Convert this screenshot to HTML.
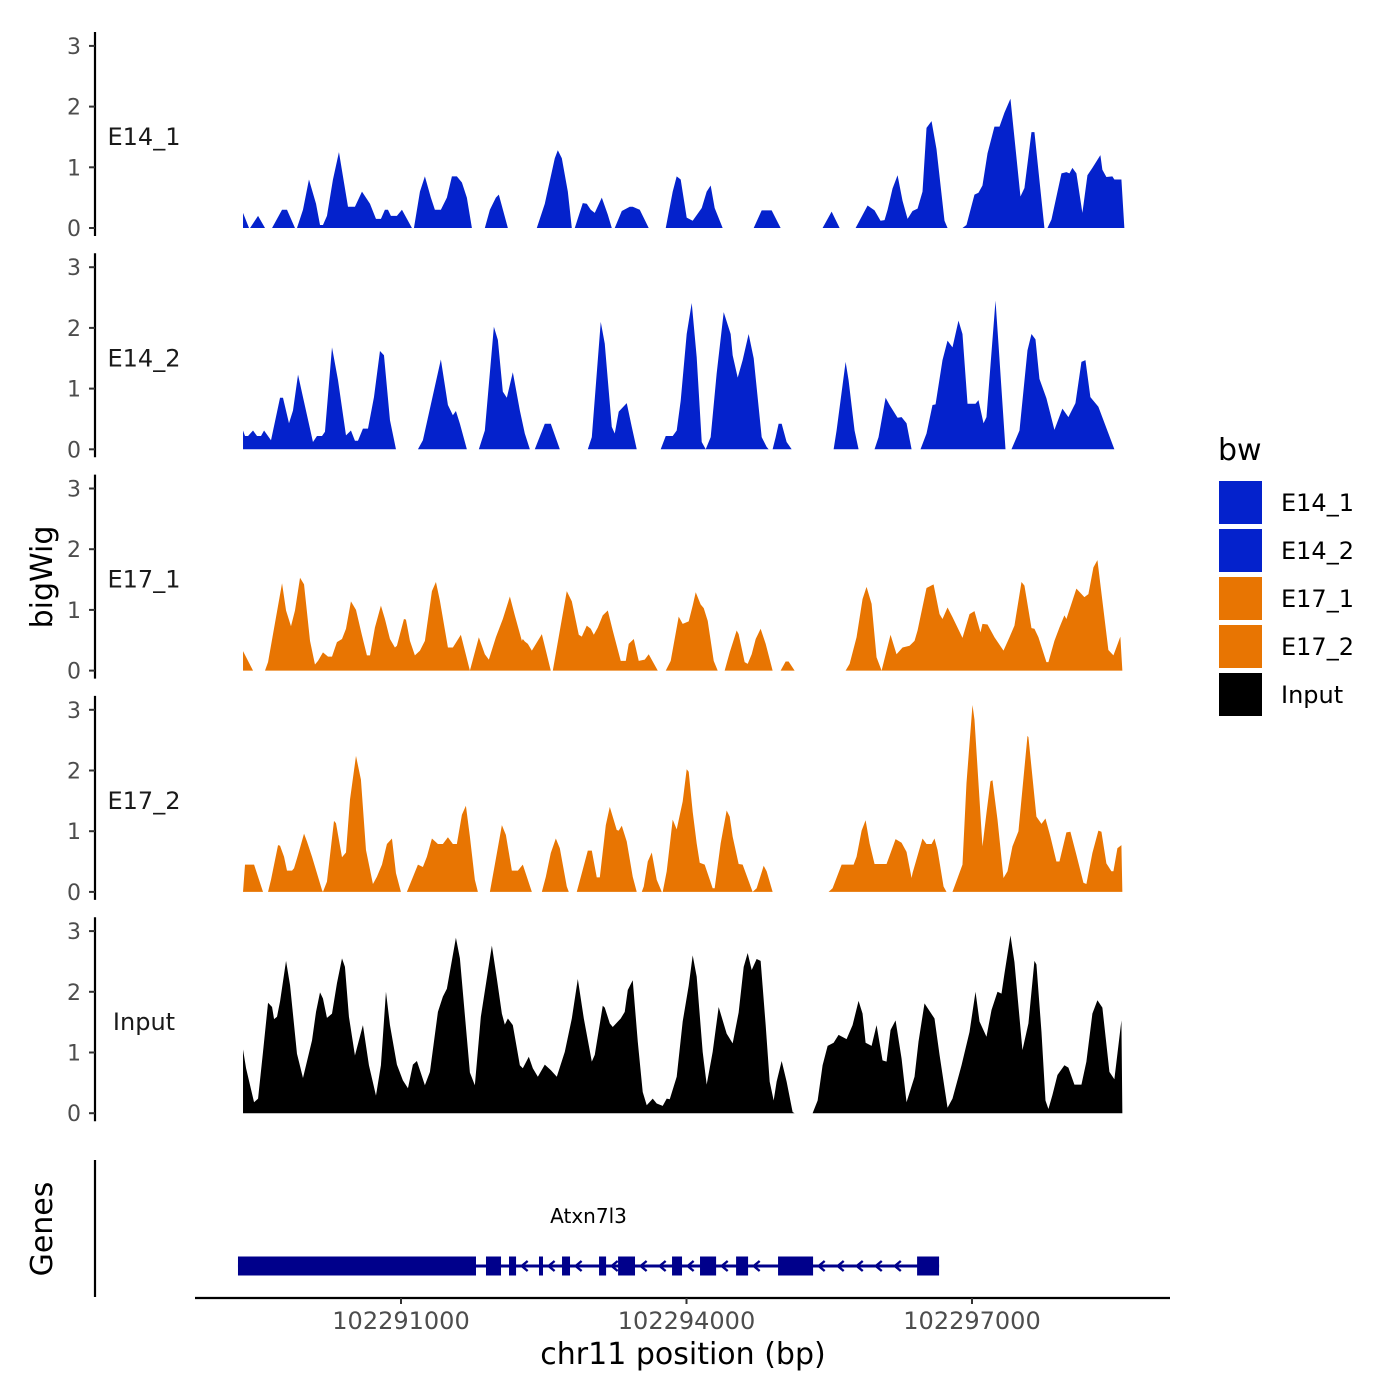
<!DOCTYPE html>
<html><head><meta charset="utf-8"><title>bigWig tracks</title>
<style>
html,body{margin:0;padding:0;background:#fff;}
svg{display:block;font-family:"DejaVu Sans","Liberation Sans",sans-serif;}
</style></head>
<body>
<svg id="chart" width="1400" height="1400" viewBox="0 0 1400 1400" xmlns="http://www.w3.org/2000/svg">
<rect x="0" y="0" width="1400" height="1400" fill="#fff"/>
<g id="panels"></g>
<g id="genes"></g>
<g id="xaxis"></g>
<text x="0" y="0" transform="translate(52,577) rotate(-90)" text-anchor="middle" font-size="30" fill="#000">bigWig</text>
<text x="0" y="0" transform="translate(52,1229) rotate(-90)" text-anchor="middle" font-size="30" fill="#000">Genes</text>
<text x="683" y="1364" text-anchor="middle" font-size="30" fill="#000">chr11 position (bp)</text>
<g id="legend"></g>
</svg>
<script>
const START = 102289340;
const trackNames = ["E14_1","E14_2","E17_1","E17_2","Input"];
const trackColors = ["#0422CC","#0422CC","#E87502","#E87502","#000000"];
const yTicks = [0,1,2,3];
const xTicks = [102291000,102294000,102297000];
const xTickLabels = ["102291000","102294000","102297000"];

const pos1 = [0,63,74,158,231,305,410,462,546,567,630,693,767,809,840,882,945,1008,1103,1176,1250,1334,1397,1449,1491,1523,1554,1617,1670,1775,1796,1859,1911,1974,2016,2079,2142,2195,2247,2300,2352,2405,2541,2594,2657,2688,2783,3087,3171,3213,3276,3308,3350,3413,3455,3486,3570,3612,3654,3696,3770,3833,3875,3906,3980,4064,4095,4169,4263,4442,4515,4557,4599,4662,4725,4820,4872,4914,4956,5040,5366,5450,5492,5555,5649,6090,6185,6269,6437,6563,6636,6699,6741,6773,6825,6878,6930,6983,7035,7088,7140,7182,7235,7287,7371,7403,7560,7602,7686,7728,7770,7823,7896,7949,8001,8064,8169,8211,8285,8316,8421,8453,8495,8600,8652,8684,8715,8757,8820,8873,8925,9009,9030,9072,9135,9156,9230,9261];
const val1 = [.25,0,0,.2,0,0,.3,.3,0,0,.3,.8,.4,.05,.05,.2,.8,1.25,.35,.35,.6,.4,.15,.15,.3,.3,.2,.2,.3,0,0,.6,.85,.5,.3,.3,.5,.85,.85,.75,.5,0,0,.3,.5,.55,0,0,.4,.7,1.15,1.28,1.15,.6,0,0,.41,.4,.3,.25,.5,.22,0,0,.28,.35,.35,.3,0,0,.6,.85,.8,.17,.12,.33,.6,.7,.33,0,0,.29,.29,.29,0,0,.27,0,0,.37,.29,.12,.13,.3,.65,.87,.45,.15,.28,.32,.6,1.65,1.76,1.3,.12,0,0,.05,.55,.58,.7,1.23,1.67,1.67,1.9,2.13,.52,.66,1.58,1.58,0,0,.14,.9,.92,.9,.99,.9,.25,.87,.99,1.2,.96,.84,.85,.8,.8,0];

const pos2 = [0,21,53,105,147,189,221,294,389,420,483,525,578,630,735,777,830,861,935,998,1082,1134,1176,1208,1260,1313,1376,1439,1481,1544,1607,1838,1890,2079,2153,2205,2237,2279,2352,2478,2541,2636,2678,2730,2772,2835,2909,2961,3014,3066,3171,3234,3329,3623,3665,3759,3801,3875,3906,3948,4032,4085,4137,4389,4442,4515,4557,4599,4662,4715,4767,4820,4862,4914,4977,5051,5124,5145,5198,5250,5313,5366,5450,5502,5523,5565,5597,5628,5660,5712,5765,6206,6237,6332,6363,6426,6468,6636,6678,6752,6794,6878,6920,6972,7025,7119,7182,7245,7277,7350,7403,7455,7518,7560,7613,7697,7728,7781,7812,7907,7938,8012,8075,8159,8243,8285,8327,8369,8442,8526,8610,8673,8747,8810,8852,8904,8988,9156];
const val2 = [.31,.22,.22,.31,.22,.22,.31,.15,.85,.85,.43,.64,1.23,.86,.12,.22,.22,.29,1.68,1.14,.23,.31,.14,.14,.34,.34,.86,1.62,1.55,.48,0,0,.15,1.48,.73,.56,.63,.42,0,0,.31,2.02,1.8,.95,.85,1.27,.64,.26,0,0,.42,.42,0,0,.2,2.1,1.74,.37,.26,.62,.76,.37,0,0,.22,.22,.31,.8,1.9,2.41,1.52,.12,0,.2,1.25,2.26,1.9,1.55,1.18,1.47,1.9,1.5,.2,.04,0,0,.2,.42,.42,.12,0,0,.31,1.44,1.14,.31,0,0,.2,.85,.73,.52,.53,.43,0,0,.26,.73,.74,1.47,1.79,1.68,2.12,1.9,.75,.75,.81,.43,.53,2.45,1.74,0,0,.31,1.63,1.9,1.81,1.16,.84,.32,.67,.53,.76,1.44,1.47,.86,.7,0];

const pos3 = [0,105,231,263,410,452,504,546,599,641,704,756,788,840,893,935,987,1040,1082,1134,1187,1250,1302,1334,1386,1449,1491,1544,1596,1617,1691,1712,1754,1806,1859,1911,1985,2027,2069,2153,2205,2289,2384,2478,2541,2583,2657,2730,2804,2856,2930,2940,2961,2993,3035,3140,3234,3255,3402,3455,3528,3560,3612,3654,3686,3728,3780,3833,3885,3969,4022,4053,4106,4158,4221,4263,4358,4442,4494,4578,4620,4683,4725,4757,4809,4841,4883,4946,4988,5061,5114,5187,5208,5271,5303,5345,5387,5439,5492,5565,5649,5702,5733,5796,6332,6374,6447,6510,6552,6605,6657,6710,6804,6867,6930,7004,7056,7088,7182,7256,7319,7350,7403,7455,7560,7634,7686,7749,7770,7823,7896,7991,8054,8106,8180,8211,8285,8316,8358,8442,8463,8526,8579,8631,8652,8757,8841,8883,8936,8978,9030,9093,9146,9177,9219,9240];
const val3 = [.32,0,0,.14,1.44,.99,.73,.99,1.53,1.42,.49,.1,.16,.3,.23,.23,.47,.52,.69,1.14,1.0,.58,.25,.25,.71,1.07,.85,.52,.38,.41,.85,.84,.49,.25,.33,.49,1.31,1.46,1.15,.38,.38,.59,0,.55,.27,.18,.55,.85,1.22,.91,.49,.52,.48,.44,.33,.6,0,0,1.31,1.14,.59,.56,.74,.69,.59,.71,.91,.99,.66,.16,.16,.44,.52,.16,.18,.27,0,0,.16,.89,.77,.81,1.07,1.29,1.09,1.03,.82,.16,0,0,.3,.66,.6,.14,.11,.27,.52,.69,.44,0,0,.15,.15,0,0,.11,.55,1.18,1.38,1.1,.22,0,.59,.27,.38,.41,.49,.66,1.36,1.42,.93,.85,1.04,.88,.54,.93,.98,.63,.77,.76,.55,.33,.55,.74,1.46,1.4,.7,.69,.55,.14,.14,.49,.71,.91,.85,1.35,1.21,1.26,1.7,1.82,1.15,.34,.25,.38,.56,0];

const pos4 = [0,21,116,210,263,294,368,389,431,462,515,536,578,641,672,725,830,840,882,956,977,1040,1082,1124,1187,1239,1292,1365,1407,1460,1512,1565,1607,1659,1722,1838,1890,1932,1985,2048,2100,2153,2205,2247,2300,2342,2384,2436,2468,2594,2646,2720,2762,2825,2888,2940,3035,3140,3182,3234,3287,3329,3402,3423,3507,3560,3623,3665,3717,3749,3812,3854,3927,3948,3980,4032,4095,4137,4190,4211,4253,4295,4347,4400,4410,4452,4515,4557,4620,4662,4683,4725,4767,4799,4851,4935,4956,5019,5082,5114,5145,5208,5250,5355,5397,5471,5502,5565,6153,6195,6290,6416,6447,6500,6542,6584,6636,6762,6857,6920,6972,7025,7035,7140,7182,7235,7266,7298,7361,7392,7455,7560,7602,7665,7686,7770,7812,7854,7875,7928,7991,8033,8085,8148,8243,8253,8337,8390,8432,8484,8547,8579,8652,8694,8757,8831,8862,8925,8988,9020,9072,9125,9146,9188,9230,9240];
const val4 = [0,.45,.45,0,0,.2,.77,.76,.58,.35,.35,.39,.61,.96,.83,.58,.03,0,.17,1.17,1.13,.57,.65,1.52,2.24,1.85,.69,.13,.25,.45,.79,.88,.31,0,0,.45,.41,.58,.88,.79,.79,.9,.79,.79,1.27,1.42,.91,.2,0,0,.45,1.1,.94,.35,.35,.45,0,0,.25,.64,.88,.72,.09,0,0,.31,.68,.68,.24,.24,1.1,1.4,1.02,1.01,1.09,.83,.25,0,0,.09,.5,.65,.2,0,0,.34,1.19,1.03,1.49,2.02,1.98,1.32,.8,.48,.45,.06,.06,.8,1.34,1.24,.91,.46,.45,0,.06,.43,.34,0,0,.06,.45,.45,.58,1.01,1.18,.8,.46,.46,.87,.81,.66,.23,.31,.88,.79,.79,.88,.69,.09,0,0,.45,1.79,3.08,2.84,.75,1.3,1.82,1.84,1.19,.23,.34,.75,1.0,2.57,2.55,1.24,1.12,1.21,.91,.5,.5,.98,.99,.61,.15,.13,.64,1.01,.99,.47,.34,.34,.72,.77,0];

const pos5 = [0,32,116,158,210,263,305,326,357,389,452,494,567,630,725,767,809,840,882,935,987,1040,1071,1113,1176,1260,1323,1397,1449,1502,1544,1617,1680,1733,1785,1827,1911,1964,2048,2100,2142,2237,2279,2384,2436,2499,2615,2667,2720,2751,2783,2835,2909,2940,3003,3045,3098,3171,3234,3297,3381,3455,3518,3581,3665,3696,3780,3801,3854,3885,3969,4011,4043,4095,4148,4200,4242,4305,4347,4410,4452,4484,4557,4620,4683,4725,4767,4830,4872,4935,4998,5082,5145,5208,5261,5303,5345,5397,5439,5492,5534,5576,5607,5660,5712,5775,5796,5985,6038,6090,6143,6206,6258,6342,6405,6468,6510,6542,6605,6657,6720,6762,6804,6857,6920,6972,7056,7098,7161,7266,7319,7403,7455,7550,7634,7697,7739,7812,7865,7928,7970,8001,8064,8106,8190,8253,8316,8337,8390,8432,8463,8505,8558,8631,8673,8736,8810,8862,8925,8978,9030,9104,9156,9230,9240];
const val5 = [1.05,.74,.18,.24,1.01,1.82,1.75,1.55,1.59,1.84,2.51,2.11,.98,.58,1.2,1.67,1.99,1.89,1.57,1.64,2.14,2.55,2.41,1.59,.95,1.45,.79,.29,.79,2.0,1.45,.8,.54,.41,.8,.86,.46,.68,1.67,1.92,2.05,2.89,2.55,.67,.46,1.59,2.76,2.22,1.64,1.46,1.56,1.45,.79,.74,.93,.74,.6,.8,.71,.6,1.01,1.56,2.21,1.56,.85,.96,1.77,1.74,1.48,1.42,1.56,1.67,2.03,2.19,1.18,.35,.13,.24,.16,.12,.24,.23,.6,1.51,2.1,2.6,2.25,1.01,.47,1.01,1.75,1.31,1.15,1.66,2.41,2.64,2.36,2.54,2.51,1.45,.52,.21,.52,.86,.52,.02,0,0,.21,.79,1.11,1.16,1.29,1.22,1.45,1.85,1.64,1.16,1.11,1.45,.87,.85,1.37,1.53,.9,.18,.6,1.18,1.81,1.56,.96,.09,.24,.79,1.34,2.0,1.51,1.26,1.7,2.0,1.97,2.3,2.93,2.49,1.04,1.48,2.51,2.45,1.34,.21,.07,.3,.63,.79,.75,.47,.47,.85,1.64,1.86,1.74,.68,.56,1.53,0];

const geneName = "Atxn7l3";
const geneStart = 102289287;
const geneEnd = 102296654;
const exonStarts = [102289287,102291893,102292135,102292450,102292692,102293081,102293281,102293848,102294142,102294521,102294962,102296423];
const exonEnds   = [102291788,102292051,102292209,102292492,102292776,102293155,102293459,102293953,102294311,102294647,102295330,102296654];

const positions = [pos1,pos2,pos3,pos4,pos5];
const values = [val1,val2,val3,val4,val5];
const NS = "http://www.w3.org/2000/svg";
function mk(tag, attrs, parent){const e=document.createElementNS(NS,tag);for(const k in attrs)e.setAttribute(k,attrs[k]);parent.appendChild(e);return e;}
function xScale(bp){return 401 + (bp-102291000)*(285.5/3000);}
const PANEL_BASE0 = 228, PANEL_STEP = 221.3, UNIT = 60.7;
function yScale(k, v){return PANEL_BASE0 + k*PANEL_STEP - v*UNIT;}

const panels = document.getElementById('panels');
for(let k=0;k<trackNames.length;k++){
  const g = mk('g',{},panels);
  
  
  const base = yScale(k,0);
  const spine = mk('line',{x1:95,x2:95,y1:base-196,y2:base+8,stroke:'#000','stroke-width':2.2},g);
  
  
  for(const t of yTicks){
    const yy = yScale(k,t);
    const tk = mk('line',{x1:89,x2:95,y1:yy,y2:yy,stroke:'#333','stroke-width':2},g);
    
    
    const tl = mk('text',{x:81,y:yy+8,'text-anchor':'end','font-size':22,fill:'#4d4d4d'},g);
    tl.textContent = String(t);
    
    
  }
  const lab = mk('text',{x:144,y:yScale(k,1.5)+8,'text-anchor':'middle','font-size':24,fill:'#1a1a1a'},g);
  lab.textContent = trackNames[k];
  
  
  const ps = positions[k], vs = values[k];
  let d = 'M'+xScale(START+ps[0]).toFixed(2)+','+base.toFixed(2);
  for(let i=0;i<ps.length;i++){d += 'L'+xScale(START+ps[i]).toFixed(2)+','+yScale(k,vs[i]).toFixed(2);}
  d += 'L'+xScale(START+ps[ps.length-1]).toFixed(2)+','+base.toFixed(2)+'Z';
  const area = mk('path',{d:d,fill:trackColors[k],stroke:'none'},g);
  
  
}

// genes
const gg = document.getElementById('genes');
const gspine = mk('line',{x1:95,x2:95,y1:1160,y2:1297,stroke:'#000','stroke-width':2.2},gg);


const GY = 1266;
const gline = mk('line',{x1:xScale(geneStart),x2:xScale(geneEnd),y1:GY,y2:GY,stroke:'#00008B','stroke-width':3},gg);


for(let i=0;i<exonStarts.length;i++){
  const x0 = xScale(exonStarts[i]), x1 = xScale(exonEnds[i]);
  const r = mk('rect',{x:x0,y:GY-9.5,width:x1-x0,height:19,fill:'#00008B'},gg);
  
  
}
for(let i=0;i<exonStarts.length-1;i++){
  const a = exonEnds[i], b = exonStarts[i+1];
  for(let p=a+80; p<=b-40; p+=200){
    const xx = xScale(p);
    const ar = mk('path',{d:'M'+(xx+4)+','+(GY-5)+'L'+(xx-2)+','+GY+'L'+(xx+4)+','+(GY+5),fill:'none',stroke:'#00008B','stroke-width':2.4},gg);
    
    
  }
}
const gl = mk('text',{x:xScale((geneStart+geneEnd)/2),y:1223,'text-anchor':'middle','font-size':20,fill:'#000'},gg);
gl.textContent = geneName;



// x axis
const xa = document.getElementById('xaxis');
const xl = mk('line',{x1:195,x2:1170,y1:1298,y2:1298,stroke:'#000','stroke-width':2.2},xa);


for(let i=0;i<xTicks.length;i++){
  const xx = xScale(xTicks[i]);
  const t = mk('line',{x1:xx,x2:xx,y1:1298,y2:1304,stroke:'#333','stroke-width':2},xa);
  
  
  const tl = mk('text',{x:xx,y:1329,'text-anchor':'middle','font-size':24,fill:'#4d4d4d'},xa);
  tl.textContent = xTickLabels[i];
  
  
}

// legend
const lg = document.getElementById('legend');
const lt = mk('text',{x:1218,y:460,'font-size':30,fill:'#000'},lg);
lt.textContent = 'bw';


for(let k=0;k<trackNames.length;k++){
  const y0 = 481 + k*48;
  const key = mk('rect',{x:1219,y:y0,width:43,height:43,fill:trackColors[k]},lg);
  
  
  const t = mk('text',{x:1281,y:y0+30,'font-size':24,fill:'#000'},lg);
  t.textContent = trackNames[k];
  
  
}
</script>
</body></html>
